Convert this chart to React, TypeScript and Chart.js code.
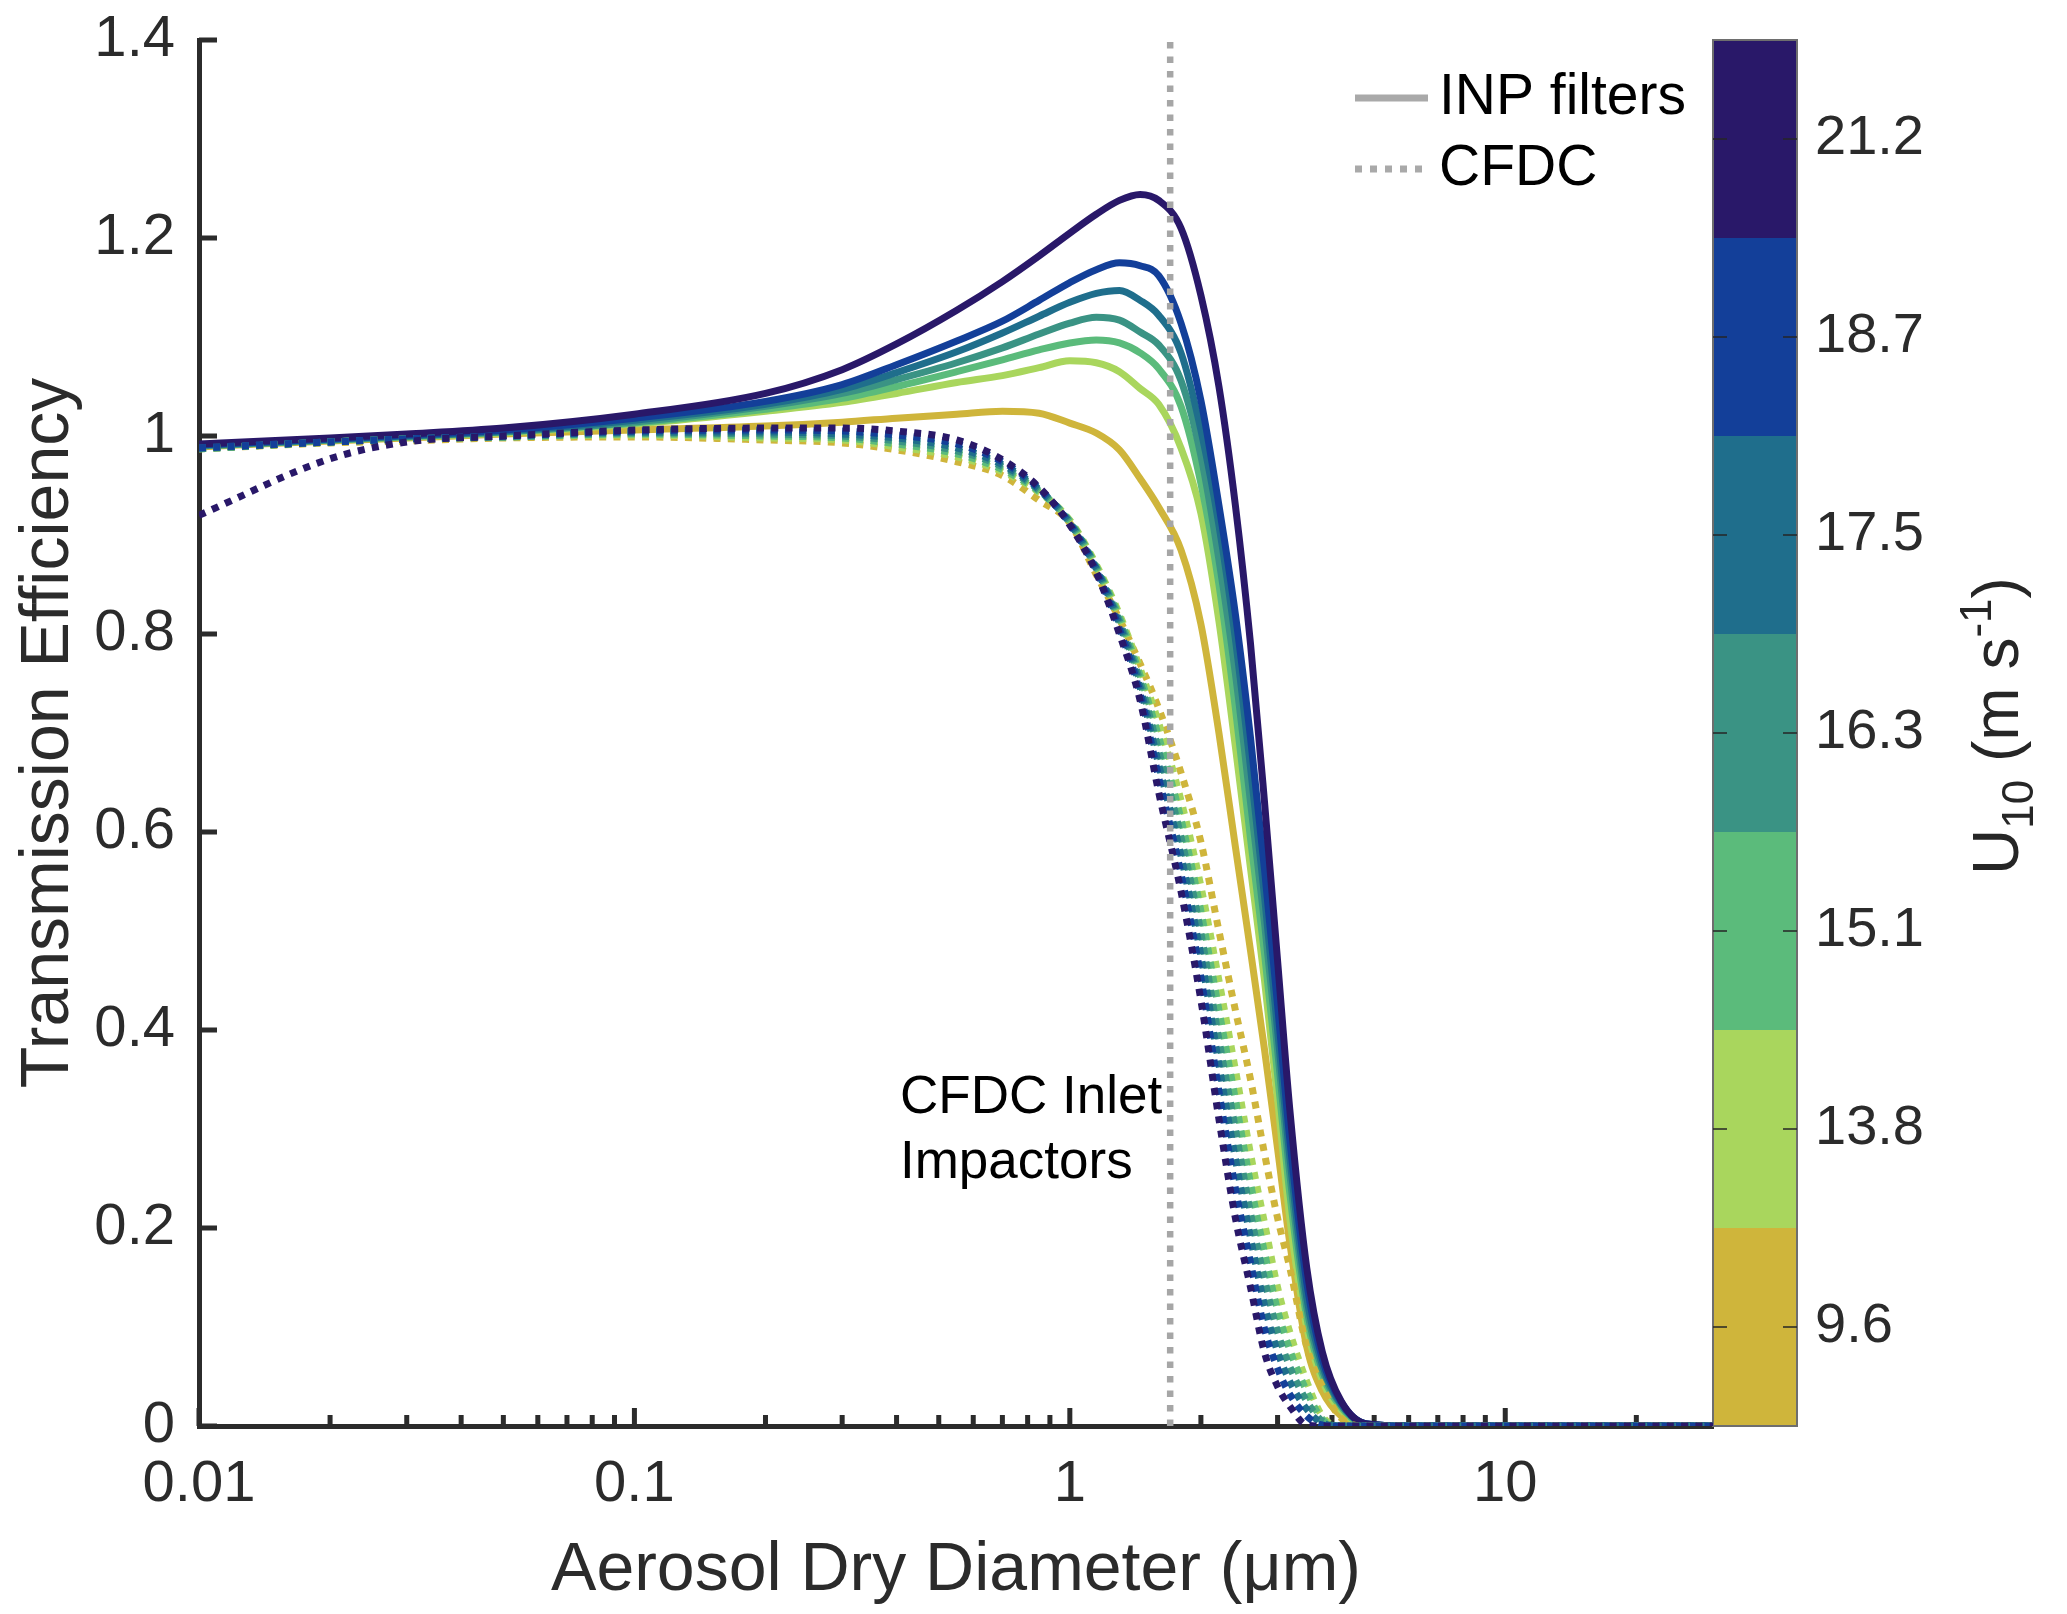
import { useEffect, useRef } from "react";
import { Chart, registerables } from "chart.js";

Chart.register(...registerables);

const FONT = "'Liberation Sans', Arial, Helvetica, sans-serif";
const AXIS_COLOR = "#2b2b2b";

// aerosol dry diameter (um), shared by all curves
const diameters = [
  0.01, 0.02, 0.03, 0.05, 0.1, 0.2, 0.3, 0.4, 0.55, 0.7, 0.85, 1.0, 1.15, 1.3, 1.45,
  1.6, 1.8, 2.0, 2.2, 2.4, 2.6, 2.8, 3.0, 3.2, 3.5, 3.8, 4.2, 4.8, 6, 30,
];

// U10 bins (low -> high)
const windLabels = ["9.6", "13.8", "15.1", "16.3", "17.5", "18.7", "21.2"];
const windColors = ["#cfb53b", "#a9d65d", "#5bbb7b", "#3a9384", "#1f6e8c", "#133f99", "#291869"];

// INP filters (solid)
const inp9_6 = [0.989, 0.995, 0.998, 1.002, 1.006, 1.01, 1.014, 1.018, 1.022, 1.025, 1.023, 1.013, 1.003, 0.986, 0.957, 0.928, 0.885, 0.81, 0.7, 0.585, 0.48, 0.38, 0.28, 0.185, 0.08, 0.035, 0.01, 0, 0, 0];
const inp13_8 = [0.99, 0.996, 0.999, 1.003, 1.012, 1.025, 1.034, 1.043, 1.054, 1.061, 1.069, 1.076, 1.074, 1.065, 1.048, 1.032, 0.988, 0.922, 0.813, 0.686, 0.563, 0.45, 0.33, 0.21, 0.1, 0.046, 0.016, 0.001, 0, 0];
const inp15_1 = [0.99, 0.996, 0.999, 1.004, 1.013, 1.027, 1.038, 1.05, 1.065, 1.077, 1.087, 1.094, 1.097, 1.094, 1.084, 1.068, 1.03, 0.952, 0.85, 0.725, 0.593, 0.477, 0.355, 0.235, 0.11, 0.052, 0.019, 0.001, 0, 0];
const inp16_3 = [0.99, 0.996, 1.0, 1.004, 1.014, 1.03, 1.043, 1.057, 1.074, 1.089, 1.103, 1.114, 1.12, 1.117, 1.105, 1.092, 1.056, 0.98, 0.875, 0.76, 0.63, 0.508, 0.38, 0.255, 0.12, 0.057, 0.021, 0.002, 0, 0];
const inp17_5 = [0.991, 0.997, 1.0, 1.005, 1.016, 1.032, 1.047, 1.064, 1.085, 1.104, 1.121, 1.135, 1.144, 1.147, 1.137, 1.122, 1.084, 1.006, 0.91, 0.795, 0.665, 0.535, 0.4, 0.272, 0.13, 0.062, 0.022, 0.002, 0, 0];
const inp18_7 = [0.991, 0.997, 1.001, 1.006, 1.018, 1.035, 1.052, 1.072, 1.096, 1.116, 1.137, 1.155, 1.168, 1.175, 1.172, 1.162, 1.114, 1.036, 0.93, 0.82, 0.695, 0.562, 0.425, 0.29, 0.145, 0.068, 0.024, 0.002, 0, 0];
const inp21_2 = [0.992, 0.998, 1.002, 1.008, 1.022, 1.043, 1.067, 1.093, 1.127, 1.156, 1.182, 1.205, 1.224, 1.238, 1.244, 1.238, 1.21, 1.142, 1.05, 0.93, 0.79, 0.63, 0.47, 0.32, 0.16, 0.075, 0.025, 0.002, 0, 0];

// CFDC (dotted)
const cfdc9_6 = [0.987, 0.993, 0.995, 0.998, 0.999, 0.996, 0.993, 0.986, 0.974, 0.96, 0.935, 0.912, 0.86, 0.815, 0.77, 0.725, 0.66, 0.59, 0.5, 0.42, 0.35, 0.275, 0.21, 0.16, 0.08, 0.04, 0.008, 0, 0, 0];
const cfdc13_8 = [0.987, 0.994, 0.997, 0.999, 1.001, 0.998, 0.996, 0.989, 0.979, 0.964, 0.943, 0.915, 0.87, 0.82, 0.765, 0.71, 0.632, 0.545, 0.45, 0.36, 0.275, 0.205, 0.14, 0.095, 0.045, 0.01, 0, 0, 0, 0];
const cfdc15_1 = [0.987, 0.994, 0.997, 0.999, 1.002, 1.0, 0.998, 0.992, 0.982, 0.966, 0.944, 0.914, 0.868, 0.817, 0.758, 0.696, 0.613, 0.52, 0.42, 0.33, 0.245, 0.175, 0.117, 0.077, 0.035, 0.007, 0, 0, 0, 0];
const cfdc16_3 = [0.987, 0.994, 0.997, 0.999, 1.003, 1.002, 1.0, 0.995, 0.985, 0.969, 0.945, 0.913, 0.867, 0.813, 0.752, 0.682, 0.595, 0.498, 0.39, 0.3, 0.215, 0.148, 0.095, 0.06, 0.025, 0.005, 0, 0, 0, 0];
const cfdc17_5 = [0.988, 0.994, 0.997, 1.0, 1.004, 1.004, 1.002, 0.998, 0.988, 0.971, 0.946, 0.912, 0.866, 0.81, 0.746, 0.668, 0.576, 0.475, 0.365, 0.27, 0.19, 0.122, 0.075, 0.045, 0.017, 0.003, 0, 0, 0, 0];
const cfdc18_7 = [0.988, 0.994, 0.997, 1.0, 1.005, 1.006, 1.005, 1.001, 0.992, 0.974, 0.947, 0.911, 0.864, 0.805, 0.74, 0.655, 0.558, 0.453, 0.338, 0.24, 0.165, 0.098, 0.058, 0.032, 0.01, 0.001, 0, 0, 0, 0];
const cfdc21_2 = [0.92, 0.977, 0.994, 1.0, 1.006, 1.008, 1.008, 1.005, 0.996, 0.976, 0.948, 0.91, 0.862, 0.8, 0.733, 0.64, 0.54, 0.43, 0.31, 0.21, 0.14, 0.074, 0.04, 0.02, 0.001, 0, 0, 0, 0, 0];

const inpSeries = [inp9_6, inp13_8, inp15_1, inp16_3, inp17_5, inp18_7, inp21_2];
const cfdcSeries = [cfdc9_6, cfdc13_8, cfdc15_1, cfdc16_3, cfdc17_5, cfdc18_7, cfdc21_2];

const impactorCut = 1.7;

const xTickValues = [
  0.01, 0.02, 0.03, 0.04, 0.05, 0.06, 0.07, 0.08, 0.09,
  0.1, 0.2, 0.3, 0.4, 0.5, 0.6, 0.7, 0.8, 0.9,
  1, 2, 3, 4, 5, 6, 7, 8, 9, 10, 20,
];
const xMajorTicks = [0.01, 0.1, 1, 10];
const xMajorLabels = ["0.01", "0.1", "1", "10"];

const CB_WIDTH = 84;

const decorPlugin = {
  id: "decor",
  beforeDatasetsDraw(chart: any) {
    const { ctx, chartArea, scales } = chart;
    const xs = scales.x;
    const ys = scales.y;
    const cb = scales.cb;
    ctx.save();
    // colorbar cells
    windColors.forEach((c, i) => {
      const top = cb.getPixelForValue(i + 1);
      const bot = cb.getPixelForValue(i);
      ctx.fillStyle = c;
      ctx.fillRect(chartArea.right, top, CB_WIDTH, bot - top);
    });
    ctx.strokeStyle = "#6e6e6e";
    ctx.lineWidth = 2;
    ctx.strokeRect(chartArea.right, chartArea.top, CB_WIDTH, chartArea.bottom - chartArea.top);
    ctx.strokeStyle = "#262626";
    ctx.lineWidth = 1.5;
    cb.ticks.forEach((t: any) => {
      const py = cb.getPixelForValue(t.value);
      ctx.beginPath();
      ctx.moveTo(chartArea.right, py);
      ctx.lineTo(chartArea.right + 14, py);
      ctx.moveTo(chartArea.right + CB_WIDTH - 14, py);
      ctx.lineTo(chartArea.right + CB_WIDTH, py);
      ctx.stroke();
    });
    // inward ticks
    ctx.strokeStyle = AXIS_COLOR;
    ctx.lineWidth = 5;
    ctx.beginPath();
    ys.ticks.forEach((t: any) => {
      const py = ys.getPixelForValue(t.value);
      ctx.moveTo(chartArea.left, py);
      ctx.lineTo(chartArea.left + 18, py);
    });
    xs.ticks.forEach((t: any) => {
      const px = xs.getPixelForValue(t.value);
      const len = xMajorTicks.includes(t.value) ? 18 : 11;
      ctx.moveTo(px, chartArea.bottom);
      ctx.lineTo(px, chartArea.bottom - len);
    });
    ctx.stroke();
    ctx.restore();
  },
  afterDraw(chart: any) {
    const { ctx, chartArea } = chart;
    ctx.save();
    // legend
    ctx.strokeStyle = "#a9a9a9";
    ctx.lineWidth = 7;
    ctx.beginPath();
    ctx.moveTo(1355, 98);
    ctx.lineTo(1428, 98);
    ctx.stroke();
    ctx.setLineDash([7, 8]);
    ctx.beginPath();
    ctx.moveTo(1355, 169);
    ctx.lineTo(1428, 169);
    ctx.stroke();
    ctx.setLineDash([]);
    ctx.fillStyle = "#000";
    ctx.font = `57px ${FONT}`;
    ctx.textAlign = "left";
    ctx.textBaseline = "middle";
    ctx.fillText("INP filters", 1439, 98);
    ctx.fillText("CFDC", 1439, 169);

    // annotation
    ctx.font = `53px ${FONT}`;
    ctx.fillText("CFDC Inlet", 900, 1098);
    ctx.fillText("Impactors", 900, 1163);

    // colorbar title, rotated
    const parts = [
      { t: "U", size: 64, dy: 0 },
      { t: "10", size: 44, dy: 15 },
      { t: " (m s", size: 64, dy: 0 },
      { t: "-1", size: 44, dy: -27 },
      { t: ")", size: 64, dy: 0 },
    ];
    let total = 0;
    parts.forEach((p) => {
      ctx.font = `${p.size}px ${FONT}`;
      total += ctx.measureText(p.t).width;
    });
    ctx.translate(2018, (chartArea.top + chartArea.bottom) / 2 - 7);
    ctx.rotate(-Math.PI / 2);
    ctx.textBaseline = "alphabetic";
    ctx.fillStyle = "#262626";
    let px = -total / 2;
    parts.forEach((p) => {
      ctx.font = `${p.size}px ${FONT}`;
      ctx.fillText(p.t, px, p.dy);
      px += ctx.measureText(p.t).width;
    });
    ctx.restore();
  },
};

const App = () => {
  const chartRef = useRef<HTMLCanvasElement | null>(null);

  useEffect(() => {
    const ctx = chartRef.current?.getContext("2d");
    if (!ctx) return;

    const toPoints = (vals: number[]) => diameters.map((d, i) => ({ x: d, y: vals[i] }));

    const datasets: any[] = [];
    // gray vertical impactor line on top
    datasets.push({
      label: "CFDC cut",
      data: [
        { x: impactorCut, y: 0 },
        { x: impactorCut, y: 1.4 },
      ],
      borderColor: "#a6a6a6",
      borderWidth: 6.5,
      borderDash: [6.5, 8],
      pointRadius: 0,
      tension: 0,
      cubicInterpolationMode: "default",
      order: -1,
    });
    windLabels.forEach((w, i) => {
      datasets.push({
        label: `CFDC ${w}`,
        data: toPoints(cfdcSeries[i]),
        borderColor: windColors[i],
        borderWidth: 7,
        borderDash: [7, 7.3],
        borderCapStyle: "butt",
        pointRadius: 0,
        cubicInterpolationMode: "monotone",
        order: windLabels.length - 1 - i,
      });
      datasets.push({
        label: `INP filters ${w}`,
        data: toPoints(inpSeries[i]),
        borderColor: windColors[i],
        borderWidth: 7,
        pointRadius: 0,
        cubicInterpolationMode: "monotone",
        order: 2 * windLabels.length - 1 - i,
      });
    });

    const tickFont = { family: FONT, size: 58 };
    const titleFont = { family: FONT, size: 68 };
    // invisible tick marks used only as label offset (keeps chart-area top padding small)
    const spacerGrid = (len: number) => ({
      display: true,
      drawOnChartArea: false,
      drawTicks: true,
      tickLength: len,
      color: "rgba(0,0,0,0)",
    });

    const myChart = new Chart(ctx, {
      type: "line",
      data: { datasets },
      options: {
        animation: false,
        responsive: true,
        maintainAspectRatio: false,
        layout: { padding: { top: 40, left: 0, right: 0, bottom: 0 } },
        plugins: { legend: { display: false }, tooltip: { enabled: false } },
        elements: { line: { borderJoinStyle: "round" } },
        scales: {
          x: {
            type: "logarithmic",
            min: 0.01,
            max: 30,
            bounds: "data",
            afterBuildTicks: (s: any) => {
              s.ticks = xTickValues.map((v) => ({ value: v }));
            },
            afterFit: (s: any) => {
              s.height = 188;
            },
            ticks: {
              autoSkip: false,
              maxRotation: 0,
              minRotation: 0,
              padding: 24,
              color: AXIS_COLOR,
              font: tickFont,
              callback: (v: any) => {
                const k = xMajorTicks.indexOf(Number(v));
                return k >= 0 ? xMajorLabels[k] : "";
              },
            },
            grid: { display: false, drawTicks: false },
            border: { display: true, color: AXIS_COLOR, width: 5 },
            title: {
              display: true,
              text: "Aerosol Dry Diameter (μm)",
              color: AXIS_COLOR,
              font: titleFont,
              padding: { top: 0, bottom: 2 },
            },
          },
          y: {
            type: "linear",
            position: "left",
            min: 0,
            max: 1.4,
            afterFit: (s: any) => {
              s.width = 199;
            },
            ticks: {
              stepSize: 0.2,
              padding: 0,
              color: AXIS_COLOR,
              font: tickFont,
              callback: (v: any) => String(Math.round(Number(v) * 10) / 10),
            },
            grid: spacerGrid(24),
            border: { display: true, color: AXIS_COLOR, width: 5 },
            title: {
              display: true,
              text: "Transmission Efficiency",
              color: AXIS_COLOR,
              font: titleFont,
              padding: { top: 8, bottom: 0 },
            },
          },
          cb: {
            type: "linear",
            position: "right",
            min: 0,
            max: windLabels.length,
            afterBuildTicks: (s: any) => {
              s.ticks = windLabels.map((_, i) => ({ value: i + 0.5 }));
            },
            afterFit: (s: any) => {
              s.width = 354;
            },
            ticks: {
              autoSkip: false,
              padding: 0,
              color: AXIS_COLOR,
              font: { family: FONT, size: 56 },
              callback: (_v: any, i: number) => windLabels[i],
            },
            grid: spacerGrid(102),
            border: { display: false },
          },
        },
      } as any,
      plugins: [decorPlugin],
    });

    return () => {
      myChart.destroy();
    };
  }, []);

  return (
    <div style={{ position: "absolute", left: 0, top: 0, width: 2067, height: 1614, background: "#fff" }}>
      <canvas ref={chartRef}></canvas>
    </div>
  );
};

export default App;
